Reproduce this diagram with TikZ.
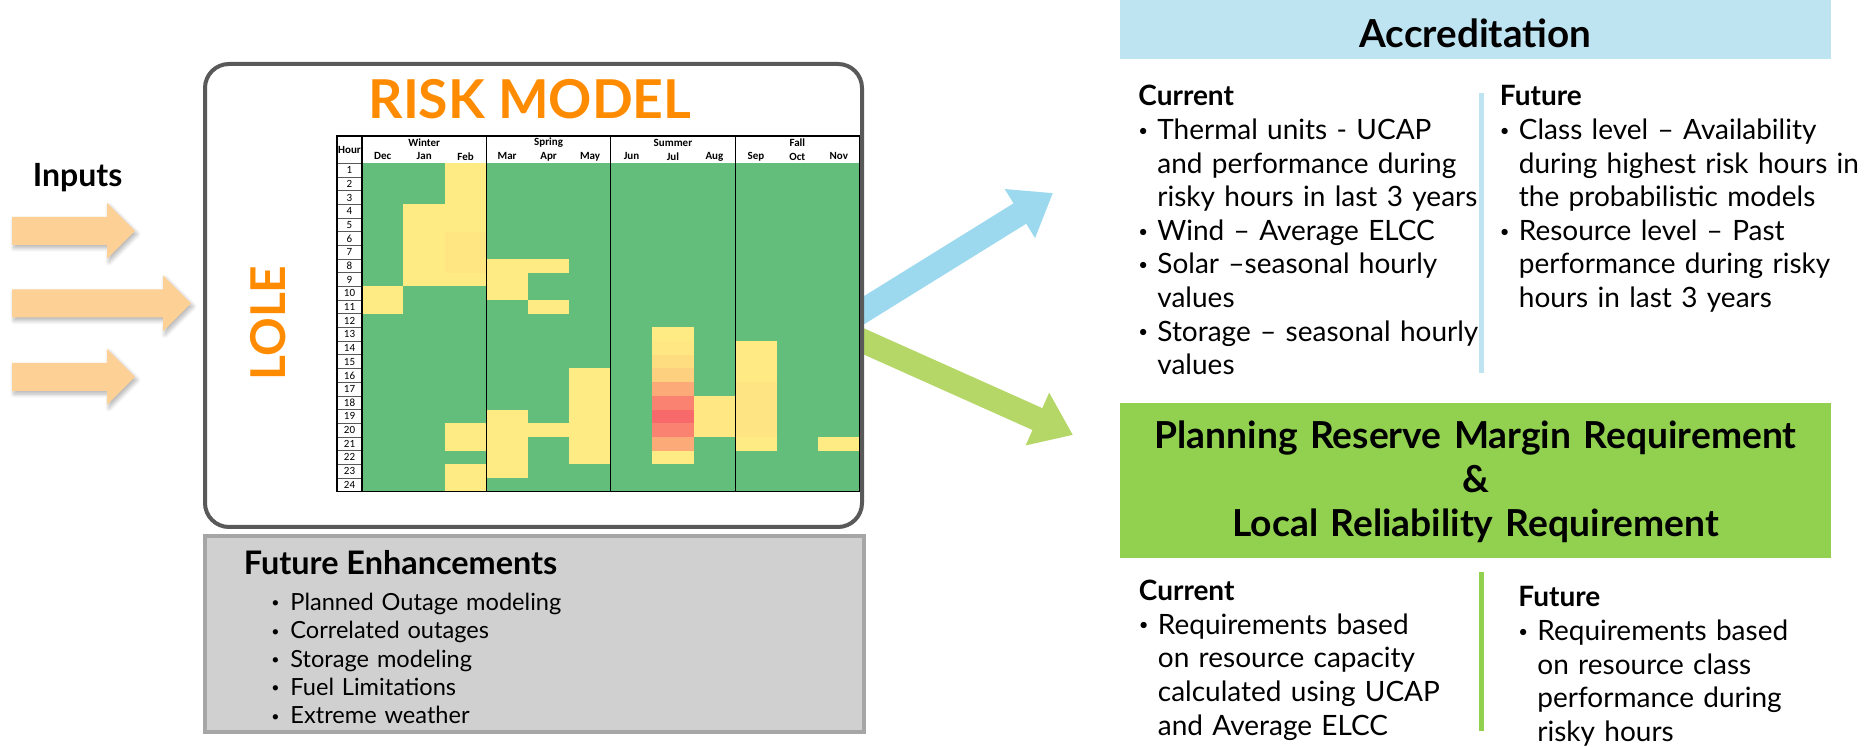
\documentclass[tikz,border=0pt]{standalone}
\usepackage{fontspec}
\setmainfont{Lato}
\newfontfamily\cellfont{Carlito}
\usetikzlibrary{arrows.meta,shadows.blur}

\definecolor{riskorange}{HTML}{FF8C00}
\definecolor{framegrey}{HTML}{595959}
\definecolor{panelgrey}{HTML}{D0D0D0}
\definecolor{paneledge}{HTML}{A6A6A6}
\definecolor{inputfill}{HTML}{FDD095}
\definecolor{accblue}{HTML}{BEE4F2}
\definecolor{accarrow}{HTML}{9DD9EE}
\definecolor{prmgreen}{HTML}{92D050}
\definecolor{prmarrow}{HTML}{B5D768}
\definecolor{hmgreen}{HTML}{63BE7B}
\definecolor{hmyellow}{HTML}{FFEB84}
\definecolor{hmred}{HTML}{F8696B}

% bullet box for the text lists
\newcommand{\bitem}{\makebox[9.5pt][l]{\raisebox{0.12em}{\scalebox{0.6}{\textbullet}}}}
\newcommand{\bcont}{\hspace*{9.5pt}}

\begin{document}
\begin{tikzpicture}[x=0.5pt,y=-0.5pt]
\tikzset{
  inarrow/.style={fill=inputfill,blur shadow={shadow xshift=1pt,shadow yshift=-1.5pt,shadow blur steps=6,shadow opacity=30}},
  accconn/.style={draw=accarrow,line width=12pt,-{Triangle[length=19.5pt,width=27.5pt]}},
  prmconn/.style={draw=prmarrow,line width=12pt,-{Triangle[length=19.5pt,width=27.5pt]}},
  riskbox/.style={draw=framegrey,fill=white,line width=2pt,rounded corners=12pt,minimum width=328.5pt,minimum height=231.5pt,inner sep=0pt},
  panelbox/.style={draw=paneledge,fill=panelgrey,line width=2pt,minimum width=329.5pt,minimum height=98pt,inner sep=0pt},
  headbox/.style={minimum width=355.5pt,inner sep=0pt},
  bigtitle/.style={font=\fontsize{26.8}{32}\selectfont\bfseries,text=riskorange,inner sep=0pt},
  titletext/.style={font=\fontsize{18.6}{22}\selectfont\bfseries,inner sep=0pt},
  bodytext/.style={font=\fontsize{14}{16.8}\selectfont,align=left,text width=185pt,inner sep=0pt,anchor=base west},
  smalltext/.style={font=\fontsize{11.8}{14.15}\selectfont,align=left,text width=200pt,inner sep=0pt,anchor=base west},
  hourlabel/.style={font=\cellfont\fontsize{5.5}{6}\selectfont,inner sep=0pt},
  seasonlabel/.style={font=\cellfont\bfseries\fontsize{5.5}{6}\selectfont,inner sep=0pt},
  monthlabel/.style={font=\cellfont\bfseries\fontsize{5.5}{6}\selectfont,inner sep=0pt},
  gridrule/.style={draw=black,line width=0.6pt},
  hourrule/.style={draw=black!65,line width=0.35pt},
  accrule/.style={draw=accblue,line width=2.5pt},
  prmrule/.style={draw=prmgreen,line width=2.5pt}
}
\useasboundingbox (0,0) rectangle (1868,747);

% input arrows
\foreach \yc/\xt in {231/135,303.5/191,377/135}
  \fill[inarrow] (12,\yc-14) -- (\xt-28,\yc-14) -- (\xt-28,\yc-28) -- (\xt,\yc)
    -- (\xt-28,\yc+28) -- (\xt-28,\yc+14) -- (12,\yc+14) -- cycle;
\node[font=\fontsize{16}{19}\selectfont\bfseries,anchor=base west,inner sep=0pt] (n_inputs) at (32.5,186.7) {Inputs};

% outgoing arrows, tails hidden under the model box
\coordinate (c_acc_tail) at (845,322);
\coordinate (c_acc_tip) at (1053,193);
\coordinate (c_prm_tail) at (845,333);
\coordinate (c_prm_tip) at (1073,435);
\draw[accconn] (c_acc_tail) -- (c_acc_tip);
\draw[prmconn] (c_prm_tail) -- (c_prm_tip);

% risk model
\node[riskbox] (n_risk) at (533.5,295.5) {};
\node[bigtitle,anchor=base] (n_risktitle) at (530,118.3) {RISK MODEL};
\node[font=\fontsize{24}{28}\selectfont\bfseries,text=riskorange,inner sep=0pt,rotate=90] (n_lole) at (268.3,323) {LOLE};

% heat map: one unit per month, one per hour
\begin{scope}[shift={(362,163.3)},x=20.73pt,y=-6.84pt]
  \fill[hmgreen] (0,0) rectangle (12,24);
  \foreach \c/\a/\b/\p in {1/10/11/0,2/4/9/0,3/1/5/0,3/6/8/4,3/9/9/0,3/20/21/0,3/23/24/0,
      4/8/10/0,4/19/23/0,5/8/8/0,5/11/11/0,5/20/20/0,6/16/22/0,
      8/13/13/0,8/14/14/3,8/15/15/11,8/16/16/21,8/17/17/50,8/18/18/80,8/19/19/100,
      8/20/20/80,8/21/21/50,8/22/22/0,9/18/20/2,10/14/16/1,10/17/20/5,10/21/21/0,12/21/21/0}
    \fill[hmred!\p!hmyellow] (\c-1,\a-1) rectangle (\c,\b);
  \foreach \r in {0,...,23}
    \draw[hourrule] (-0.603,\r) -- (0,\r);
  \foreach \r in {1,...,24}
    \node[hourlabel] at (-0.3015,\r-0.5) {\r};
  \draw[gridrule] (-0.603,-2) rectangle (12,24);
  \foreach \s in {0,3,6,9}
    \draw[gridrule] (\s,-2) -- (\s,24);
  \node[seasonlabel] at (-0.3015,-1) {Hour};
  \foreach \s [count=\i] in {Winter,Spring,Summer,Fall}
    \node[seasonlabel] at (3*\i-1.5,-1.5) {\s};
  \foreach \m [count=\i] in {Dec,Jan,Feb,Mar,Apr,May,Jun,Jul,Aug,Sep,Oct,Nov}
    \node[monthlabel] at (\i-0.5,-0.5) {\m};
\end{scope}

% future enhancements
\node[panelbox] (n_future) at (534.5,634) {};
\node[font=\fontsize{16.2}{19}\selectfont\bfseries,anchor=base west,inner sep=0pt] (n_futuretitle) at (243.5,575) {Future Enhancements};
\node[smalltext] (n_futurelist) at (271,610.7) {\bitem Planned Outage modeling\\
  \bitem Correlated outages\\
  \bitem Storage modeling\\
  \bitem Fuel Limitations\\
  \bitem Extreme weather};

% accreditation
\node[headbox,fill=accblue,minimum height=29.5pt] (n_acc) at (1475.5,29.5) {};
\node[titletext,font=\fontsize{19.3}{23}\selectfont\bfseries,anchor=base] (n_acctitle) at (1475.5,48) {Accreditation};
\node[bodytext] (n_acc_now) at (1138,106) {{\bfseries Current}\\
  \bitem Thermal units - UCAP\\
  \bcont and performance during\\
  \bcont risky hours in last 3 years\\
  \bitem Wind – Average ELCC\\
  \bitem Solar –seasonal hourly\\
  \bcont values\\
  \bitem Storage – seasonal hourly\\
  \bcont values};
\draw[accrule] (1481,93) -- (1481,373);
\node[bodytext] (n_acc_next) at (1499.5,106) {{\bfseries Future}\\
  \bitem Class level – Availability\\
  \bcont during highest risk hours in\\
  \bcont the probabilistic models\\
  \bitem Resource level – Past\\
  \bcont performance during risky\\
  \bcont hours in last 3 years};

% planning reserve margin
\node[headbox,fill=prmgreen,minimum height=77.5pt] (n_prm) at (1475.5,480.5) {};
\node[titletext,align=center,text width=355pt,anchor=base] (n_prmtitle) at (1475.5,449)
  {Planning Reserve Margin Requirement\\\&\\Local Reliability Requirement};
\node[bodytext] (n_prm_now) at (1138.5,600.7) {{\bfseries Current}\\
  \bitem Requirements based\\
  \bcont on resource capacity\\
  \bcont calculated using UCAP\\
  \bcont and Average ELCC};
\draw[prmrule] (1481,572) -- (1481,731);
\node[bodytext] (n_prm_next) at (1518,607) {{\bfseries Future}\\
  \bitem Requirements based\\
  \bcont on resource class\\
  \bcont performance during\\
  \bcont risky hours};
\end{tikzpicture}
\end{document}
